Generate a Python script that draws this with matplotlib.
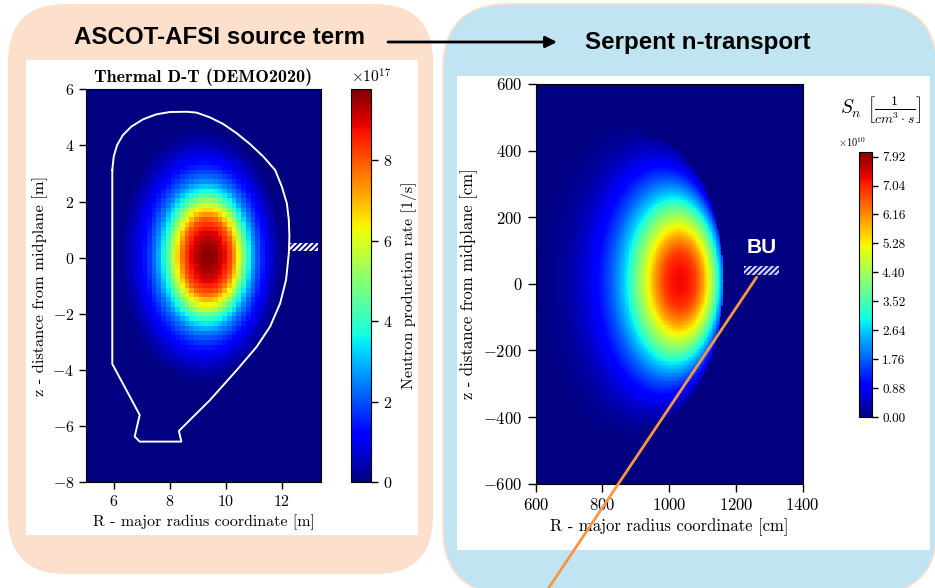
import numpy as np
import matplotlib
matplotlib.use("Agg")
import matplotlib.pyplot as plt
from matplotlib.patches import FancyBboxPatch, Rectangle, ConnectionPatch

plt.rcParams['font.family'] = 'serif'
plt.rcParams['font.serif'] = ['cmr10', 'DejaVu Serif']
plt.rcParams['mathtext.fontset'] = 'cm'
plt.rcParams['axes.formatter.use_mathtext'] = True
plt.rcParams['hatch.linewidth'] = 1.6

# ---------------- data ----------------
left_header = "ASCOT-AFSI source term"
right_header = "Serpent n-transport"

# Left panel: ASCOT-AFSI thermal D-T source (values in 1e17 1/s)
left_title = "Thermal D-T (DEMO2020)"
left_xticks = [6, 8, 10, 12]
left_yticks = [-8, -6, -4, -2, 0, 2, 4, 6]
left_cbar_ticks = [0, 2, 4, 6, 8]
left_vmax = 9.76
left_rho = [0.0, 0.1, 0.2, 0.3, 0.4, 0.5, 0.6, 0.7, 0.8, 0.9, 1.0, 1.05]
left_val = [9.7, 9.5, 8.9, 7.9, 6.0, 4.0, 2.5, 1.6, 0.9, 0.4, 0.05, 0.0]
left_axis_R, left_axis_z = 9.37, 0.05
left_minor_a, left_kappa, left_shift = 2.9, 1.55, 0.27
wall_R = [5.94, 5.99, 6.11, 6.32, 6.62, 7.04, 7.52, 8.00, 8.59, 8.95, 9.43, 9.91,
          10.39, 10.86, 11.34, 11.76, 12.00, 12.18, 12.25, 12.27, 12.25, 12.15,
          11.94, 11.58, 11.10, 10.39, 9.43, 8.32, 8.41, 6.92, 6.74, 6.92, 5.94, 5.94]
wall_z = [3.12, 3.60, 4.01, 4.37, 4.67, 4.93, 5.11, 5.19, 5.20, 5.17, 5.00, 4.76,
          4.43, 4.05, 3.60, 3.12, 2.53, 1.93, 1.34, 0.75, 0.15, -0.80,
          -1.63, -2.46, -3.18, -4.01, -5.08, -6.18, -6.56, -6.56, -6.38, -5.61, -3.79, 3.12]
left_bu_R = (12.26, 13.28)
left_bu_z = (0.25, 0.53)

# Right panel: Serpent neutron source (values in 1e10 1/(cm^3 s))
right_xticks = [600, 800, 1000, 1200, 1400]
right_yticks = [-600, -400, -200, 0, 200, 400, 600]
right_cbar_ticks = [0.00, 0.88, 1.76, 2.64, 3.52, 4.40, 5.28, 6.16, 7.04, 7.92]
right_vmax = 8.07
right_rho = [0.0, 0.1, 0.2, 0.3, 0.4, 0.5, 0.6, 0.7, 0.8, 0.9, 1.0, 1.1, 1.15]
right_val = [7.3, 7.2, 6.8, 6.0, 4.9, 3.8, 2.6, 1.7, 1.0, 0.5, 0.18, 0.04, 0.0]
right_axis_R, right_axis_z = 1032.0, 10.0
right_minor_a, right_kappa, right_shift = 240.0, 1.8, 110.0
right_bu_R = (1225, 1330)
right_bu_z = (27, 55)
bu_label_pos = (1278, 110)
los_start = (1262, 20)


def flux_label(R, Z, R0, z0, a, kappa, shift, power):
    lo = np.zeros_like(R)
    hi = np.full_like(R, 2.0)
    for _ in range(40):
        mid = 0.5 * (lo + hi)
        Rc = R0 - shift * mid ** power
        g = (R - Rc) ** 2 + ((Z - z0) / kappa) ** 2 - (a * mid) ** 2
        pos = g > 0
        lo = np.where(pos, mid, lo)
        hi = np.where(pos, hi, mid)
    return 0.5 * (lo + hi)


fig = plt.figure(figsize=(9.35, 5.88), dpi=100)
W, H = 935.0, 588.0


def px_axes(x0, y0, x1, y1, **kw):
    return fig.add_axes([x0 / W, 1 - y1 / H, (x1 - x0) / W, (y1 - y0) / H], **kw)


# background
bg = fig.add_axes([0, 0, 1, 1])
bg.set_xlim(0, W)
bg.set_ylim(H, 0)
bg.axis('off')
peach = '#FCE0CC'
blue = '#C1E4F2'
bg.add_patch(FancyBboxPatch((8, 4), 425, 570, boxstyle="round,pad=0,rounding_size=58",
                            facecolor=peach, edgecolor='none'))
bg.add_patch(FancyBboxPatch((443, 4), 494, 590, boxstyle="round,pad=0,rounding_size=66",
                            facecolor=blue, edgecolor=peach, lw=1.3))
bg.add_patch(Rectangle((26, 60), 392, 475, facecolor='white', edgecolor='none'))
bg.add_patch(Rectangle((457, 76), 473, 474, facecolor='white', edgecolor='none'))
bg.text(220, 38, left_header, family='Liberation Sans', weight='bold', fontsize=17.4,
        ha='center', va='center')
bg.text(698, 42, right_header, family='Liberation Sans', weight='bold', fontsize=17.4,
        ha='center', va='center')
bg.annotate('', xy=(557, 42), xytext=(388, 42),
            arrowprops=dict(arrowstyle='-|>', color='black', lw=2, mutation_scale=17,
                            shrinkA=0, shrinkB=0))

# ---------- left panel ----------
ax1 = px_axes(86, 89.3, 321, 482)
Re = np.linspace(5, 13.4, 51)
Ze = np.linspace(-8, 6, 84)
Rc_ = 0.5 * (Re[:-1] + Re[1:])
Zc_ = 0.5 * (Ze[:-1] + Ze[1:])
RR, ZZ = np.meshgrid(Rc_, Zc_)
rho1 = flux_label(RR, ZZ, left_axis_R, left_axis_z, left_minor_a, left_kappa, left_shift, 2)
S1 = np.interp(rho1, left_rho, left_val, right=0.0)
m1 = ax1.pcolormesh(Re, Ze, S1, cmap='jet', vmin=0, vmax=left_vmax, shading='flat')
ax1.plot(wall_R, wall_z, color='white', lw=1.4)
ax1.add_patch(Rectangle((left_bu_R[0], left_bu_z[0]), left_bu_R[1] - left_bu_R[0],
                        left_bu_z[1] - left_bu_z[0], facecolor='none', edgecolor='white',
                        hatch='//////', lw=0))
ax1.set_xlim(5, 13.4)
ax1.set_ylim(-8, 6)
ax1.set_xticks(left_xticks)
ax1.set_yticks(left_yticks)
ax1.tick_params(direction='out', length=5, width=1, labelsize=11.5)
ax1.set_title(left_title, fontsize=13, pad=5, family='cmb10')
ax1.set_xlabel('R - major radius coordinate [m]', fontsize=11.5, labelpad=4)
ax1.set_ylabel('z - distance from midplane [m]', fontsize=11.8, labelpad=3)

cax1 = px_axes(351, 89.3, 371, 482)
cb1 = fig.colorbar(m1, cax=cax1)
cb1.set_ticks(left_cbar_ticks)
cb1.ax.tick_params(direction='out', length=5, width=1, labelsize=11.5)
cb1.set_label('Neutron production rate [1/s]', fontsize=11.5, labelpad=6)
cax1.text(0.0, 1.01, r'$\times10^{17}$', transform=cax1.transAxes, fontsize=11,
          ha='left', va='bottom')

# ---------- right panel ----------
ax2 = px_axes(535.7, 84, 802.7, 483.7)
Re2 = np.linspace(600, 1400, 201)
Ze2 = np.linspace(-600, 600, 301)
RR2, ZZ2 = np.meshgrid(0.5 * (Re2[:-1] + Re2[1:]), 0.5 * (Ze2[:-1] + Ze2[1:]))
rho2 = flux_label(RR2, ZZ2, right_axis_R, right_axis_z, right_minor_a, right_kappa,
                  right_shift, 3)
S2 = np.interp(rho2, right_rho, right_val, right=0.0)
m2 = ax2.pcolormesh(Re2, Ze2, S2, cmap='jet', vmin=0, vmax=right_vmax, shading='flat')
ax2.add_patch(Rectangle((right_bu_R[0], right_bu_z[0]), right_bu_R[1] - right_bu_R[0],
                        right_bu_z[1] - right_bu_z[0], facecolor='none',
                        edgecolor='#D0D0F4', hatch='//////', lw=0))
ax2.text(bu_label_pos[0], bu_label_pos[1], 'BU', family='Liberation Sans',
         weight='bold', color='white', fontsize=15, ha='center', va='center')
ax2.set_xlim(600, 1400)
ax2.set_ylim(-600, 600)
ax2.set_xticks(right_xticks)
ax2.set_yticks(right_yticks)
ax2.tick_params(direction='out', length=6, width=1, labelsize=12)
ax2.set_xlabel('R - major radius coordinate [cm]', fontsize=12, labelpad=4)
ax2.set_ylabel('z - distance from midplane [cm]', fontsize=12, labelpad=4)

cax2 = px_axes(859, 151.7, 871.7, 417)
cb2 = fig.colorbar(m2, cax=cax2)
cb2.set_ticks(right_cbar_ticks)
cb2.set_ticklabels([f'{t:.2f}' for t in right_cbar_ticks])
cb2.ax.tick_params(direction='out', length=4, width=1, labelsize=9.5)
bg.text(852, 142, r'$\times10^{10}$', fontsize=7.5, ha='center', va='center')
bg.text(881, 110, r'$S_n\ \left[\frac{1}{cm^3\cdot s}\right]$', fontsize=14,
        ha='center', va='center')

# line-of-sight from BU
con = ConnectionPatch(xyA=los_start, coordsA=ax2.transData, xyB=(546, 592),
                      coordsB=bg.transData, color='#F79646', lw=2, zorder=20)
fig.add_artist(con)

fig.savefig('out.png', dpi=100)
